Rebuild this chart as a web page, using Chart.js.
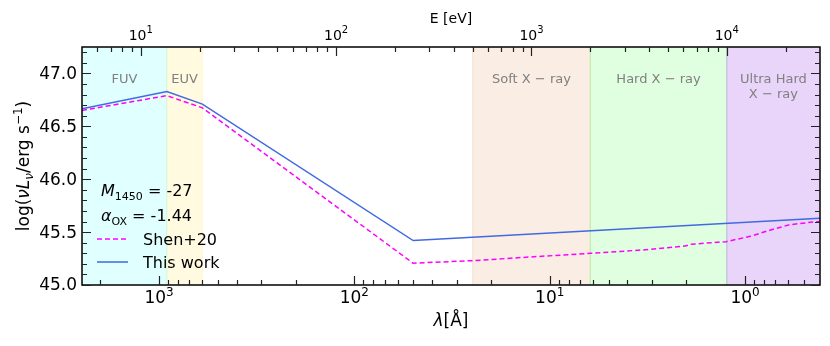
<!DOCTYPE html>
<html>
<head>
<meta charset="utf-8">
<script src="https://cdn.jsdelivr.net/npm/chart.js@4.4.0/dist/chart.umd.min.js"></script>
<style>
  html, body { margin: 0; padding: 0; background: #fff; }
  #wrap { width: 830px; height: 346px; }
</style>
</head>
<body>
<div id="wrap"><canvas id="sed" width="830" height="346"></canvas></div>
<script>
// SED: wavelength in Angstrom (bottom), photon energy in eV (top)
const HC = 12398.42; // eV * Angstrom
const eMin = 5, eMax = 30000;
const lamMax = HC / eMin, lamMin = HC / eMax;

const lamThisWork = [2480, 912, 600, 50, 0.4133];
const logLThisWork = [46.665, 46.83, 46.71, 45.42, 45.63];

const lamShen = [2480, 912, 600, 50, 25, 12.5, 6.2, 3.1, 2.0, 1.9, 1.25, 0.94, 0.74, 0.59, 0.45, 0.4133];
const logLShen = [46.65, 46.79, 46.675, 45.206, 45.23, 45.265, 45.30, 45.335, 45.37, 45.385, 45.41, 45.46, 45.52, 45.57, 45.595, 45.60];

// spectral bands (Angstrom limits)
const bandNames = ["FUV", "EUV", "Soft X \u2212 ray", "Hard X \u2212 ray", "Ultra Hard\nX \u2212 ray"];
const bandLamHi = [lamMax, 912, 24.8, 6.2, 1.24];
const bandLamLo = [912, 600, 6.2, 1.24, lamMin];
const bandRgb = ["0,255,255", "255,215,0", "210,105,30", "0,255,0", "138,43,226"];
const bandAlpha = [0.12, 0.12, 0.12, 0.12, 0.2];

const yMajor = [45.0, 45.5, 46.0, 46.5, 47.0];
const lamMajorExp = [0, 1, 2, 3];
const eMajorExp = [1, 2, 3, 4];

const FONT = "'DejaVu Sans'";

function drawRich(ctx, parts, x, y, align) {
  let w = 0;
  parts.forEach((p) => { ctx.font = p[1]; w += ctx.measureText(p[0]).width; });
  let cx = align === "center" ? x - w / 2 : align === "right" ? x - w : x;
  ctx.textAlign = "left";
  ctx.textBaseline = "alphabetic";
  parts.forEach((p) => {
    ctx.font = p[1];
    ctx.fillText(p[0], cx, y + (p[2] || 0));
    cx += ctx.measureText(p[0]).width;
  });
}

function minorLogs(lo, hi) {
  const out = [];
  for (let n = -2; n <= 5; n++) {
    for (let k = 2; k <= 9; k++) {
      const v = k * Math.pow(10, n);
      if (v > lo && v < hi) out.push(v);
    }
  }
  return out;
}

const sedDecor = {
  id: "sedDecor",
  beforeDatasetsDraw(chart) {
    const { ctx, chartArea: a, scales } = chart;
    const x = scales.x, y = scales.y;
    ctx.save();
    bandNames.forEach((name, i) => {
      const x0 = Math.max(x.getPixelForValue(bandLamHi[i]), a.left);
      const x1 = Math.min(x.getPixelForValue(bandLamLo[i]), a.right);
      ctx.fillStyle = "rgba(" + bandRgb[i] + "," + bandAlpha[i] + ")";
      ctx.fillRect(x0, a.top, x1 - x0, a.bottom - a.top);
      ctx.strokeStyle = "rgba(" + bandRgb[i] + "," + bandAlpha[i] * 1.3 + ")";
      ctx.lineWidth = 1;
      ctx.beginPath();
      if (x0 > a.left + 1) { ctx.moveTo(x0, a.top); ctx.lineTo(x0, a.bottom); }
      if (x1 < a.right - 1) { ctx.moveTo(x1, a.top); ctx.lineTo(x1, a.bottom); }
      ctx.stroke();

      // label
      ctx.fillStyle = "#808080";
      ctx.font = "13px " + FONT;
      ctx.textAlign = "center";
      ctx.textBaseline = "alphabetic";
      const top = y.getPixelForValue(47.0);
      name.split("\n").forEach((ln, j) => {
        ctx.fillText(ln, (x0 + x1) / 2, top + 10 + j * 15);
      });
    });
    ctx.restore();
  },
  afterDraw(chart) {
    const { ctx, chartArea: a, scales } = chart;
    const x = scales.x, x2 = scales.x2, y = scales.y;
    ctx.save();

    // frame
    ctx.strokeStyle = "#000";
    ctx.lineWidth = 1.5;
    ctx.strokeRect(a.left, a.top, a.right - a.left, a.bottom - a.top);

    // ticks (inward)
    ctx.lineWidth = 1.2;
    ctx.strokeStyle = "#222";
    ctx.beginPath();
    const maj = 9, mnr = 5;
    for (let v = 45.0; v <= 47.25 + 1e-9; v += 0.1) {
      const py = Math.round(y.getPixelForValue(v)) + 0.5;
      const isMaj = Math.abs(v * 2 - Math.round(v * 2)) < 1e-6;
      const len = isMaj ? maj : mnr;
      ctx.moveTo(a.left, py); ctx.lineTo(a.left + len, py);
      ctx.moveTo(a.right, py); ctx.lineTo(a.right - len, py);
    }
    lamMajorExp.forEach((e) => {
      const px = Math.round(x.getPixelForValue(Math.pow(10, e))) + 0.5;
      ctx.moveTo(px, a.bottom); ctx.lineTo(px, a.bottom - maj);
    });
    minorLogs(lamMin, lamMax).forEach((v) => {
      const px = Math.round(x.getPixelForValue(v)) + 0.5;
      ctx.moveTo(px, a.bottom); ctx.lineTo(px, a.bottom - mnr);
    });
    eMajorExp.forEach((e) => {
      const px = Math.round(x2.getPixelForValue(Math.pow(10, e))) + 0.5;
      ctx.moveTo(px, a.top); ctx.lineTo(px, a.top + maj);
    });
    minorLogs(eMin, eMax).forEach((v) => {
      const px = Math.round(x2.getPixelForValue(v)) + 0.5;
      ctx.moveTo(px, a.top); ctx.lineTo(px, a.top + mnr);
    });
    ctx.stroke();

    // tick labels
    ctx.fillStyle = "#000";
    ctx.font = "17px " + FONT;
    ctx.textAlign = "right";
    ctx.textBaseline = "middle";
    yMajor.forEach((v) => {
      ctx.fillText(v.toFixed(1), a.left - 5, y.getPixelForValue(v) + 1);
    });
    lamMajorExp.forEach((e) => {
      drawRich(ctx, [["10", "17px " + FONT], [String(e), "12px " + FONT, -7.5]],
        x.getPixelForValue(Math.pow(10, e)), a.bottom + 18, "center");
    });
    eMajorExp.forEach((e) => {
      drawRich(ctx, [["10", "14px " + FONT], [String(e), "10px " + FONT, -7]],
        x2.getPixelForValue(Math.pow(10, e)), a.top - 7, "center");
    });

    // axis titles
    const cxm = (a.left + a.right) / 2;
    drawRich(ctx, [["\u03bb", "italic 17px " + FONT], ["[\u00c5]", "17px " + FONT]], cxm, 326, "center");
    drawRich(ctx, [["E [eV]", "14px " + FONT]], cxm, 23, "center");

    ctx.save();
    ctx.translate(24, (a.top + a.bottom) / 2);
    ctx.rotate(-Math.PI / 2);
    drawRich(ctx, [
      ["log(", "17px " + FONT],
      ["\u03bd", "italic 17px " + FONT],
      ["L", "italic 17px " + FONT],
      ["\u03bd", "italic 12px " + FONT, 4],
      ["/erg s", "17px " + FONT],
      ["\u22121", "12px " + FONT, -7],
      [")", "17px " + FONT]
    ], 0, 5, "center");
    ctx.restore();

    // annotations
    drawRich(ctx, [["M", "italic 16px " + FONT], ["1450", "11px " + FONT, 4], [" = -27", "16px " + FONT]], 101, 196, "left");
    drawRich(ctx, [["\u03b1", "italic 16px " + FONT], ["OX", "11px " + FONT, 4], [" = -1.44", "16px " + FONT]], 101, 221, "left");

    // legend
    const legendLines = [
      { label: "Shen+20", color: "#ff00ff", dash: [5, 3], y: 239 },
      { label: "This work", color: "#4169e1", dash: [], y: 262 }
    ];
    legendLines.forEach((it) => {
      ctx.strokeStyle = it.color;
      ctx.lineWidth = 1.5;
      ctx.setLineDash(it.dash);
      ctx.beginPath();
      ctx.moveTo(97, it.y); ctx.lineTo(128, it.y);
      ctx.stroke();
      ctx.setLineDash([]);
      drawRich(ctx, [[it.label, "16px " + FONT]], 143, it.y + 5.5, "left");
    });
    ctx.restore();
  }
};

const toPts = (xs, ys) => xs.map((v, i) => ({ x: v, y: ys[i] }));

new Chart(document.getElementById("sed"), {
  type: "line",
  data: {
    datasets: [
      {
        label: "Shen+20",
        data: toPts(lamShen, logLShen),
        borderColor: "#ff00ff",
        borderDash: [5, 3],
        borderWidth: 1.5,
        pointRadius: 0,
        tension: 0,
        fill: false,
      },
      {
        label: "This work",
        data: toPts(lamThisWork, logLThisWork),
        borderColor: "#4169e1",
        borderWidth: 1.5,
        pointRadius: 0,
        tension: 0,
        fill: false,
      },
    ],
  },
  options: {
    responsive: false,
    animation: false,
    events: [],
    layout: { padding: { left: 82, right: 10, top: 47, bottom: 61 } },
    plugins: { legend: { display: false }, tooltip: { enabled: false } },
    scales: {
      x: { type: "logarithmic", reverse: true, min: lamMin, max: lamMax, display: false },
      x2: { type: "logarithmic", position: "top", min: eMin, max: eMax, display: false },
      y: { type: "linear", min: 45.0, max: 47.25, display: false },
    },
  },
  plugins: [sedDecor],
});
</script>
</body>
</html>
